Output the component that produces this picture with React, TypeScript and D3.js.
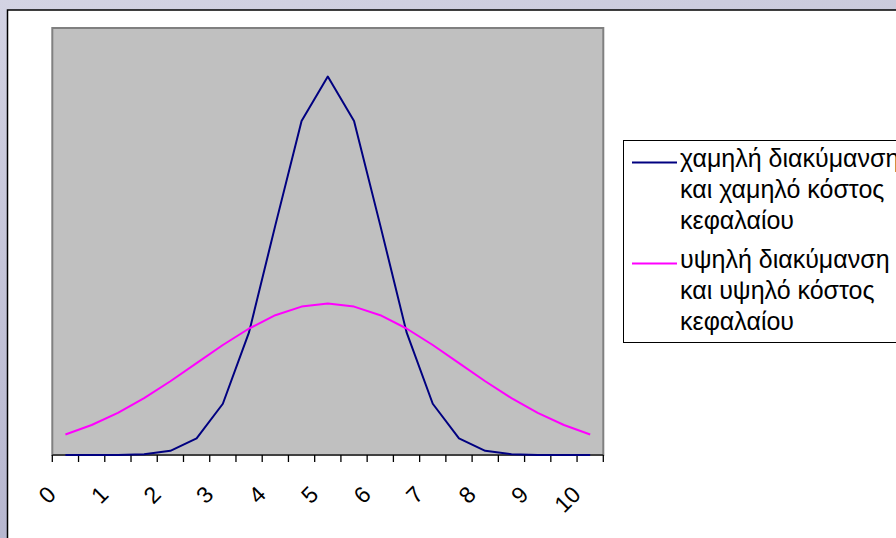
import React from "react";
import * as d3 from "d3";

// x categories: 0, 0.5, ..., 10 (21 categories), labels every other
const categories: number[] = [0, 0.5, 1, 1.5, 2, 2.5, 3, 3.5, 4, 4.5, 5, 5.5, 6, 6.5, 7, 7.5, 8, 8.5, 9, 9.5, 10];
const tickLabels: string[] = ["0", "1", "2", "3", "4", "5", "6", "7", "8", "9", "10"];

// low variance and low cost of capital
const lowSeries: number[] = [
  0.0, 0.0, 0.0001, 0.0009, 0.0044, 0.0175, 0.054, 0.1295, 0.242, 0.3521, 0.3989,
  0.3521, 0.242, 0.1295, 0.054, 0.0175, 0.0044, 0.0009, 0.0001, 0.0, 0.0,
];
// high variance and high cost of capital
const highSeries: number[] = [
  0.0216, 0.0316, 0.0444, 0.0599, 0.0777, 0.0968, 0.1159, 0.1333, 0.1473, 0.1564, 0.1596,
  0.1564, 0.1473, 0.1333, 0.1159, 0.0968, 0.0777, 0.0599, 0.0444, 0.0316, 0.0216,
];

const seriesNames: string[][] = [
  ["χαμηλή διακύμανση", "και χαμηλό κόστος", "κεφαλαίου"],
  ["υψηλή διακύμανση", "και υψηλό κόστος", "κεφαλαίου"],
];
const seriesColors: string[] = ["#000080", "#ff00ff"];
const yMax = 0.45;

export default function App() {
  const W = 896;
  const H = 538;
  const plot = { left: 52.3, right: 603.3, top: 28, bottom: 455 };

  const x = d3
    .scaleBand<number>()
    .domain(categories.map((_, i) => i))
    .range([plot.left, plot.right])
    .paddingInner(0)
    .paddingOuter(0);
  const bw = x.bandwidth();
  const cx = (i: number) => (x(i) as number) + bw / 2;
  const y = d3.scaleLinear().domain([0, yMax]).range([plot.bottom, plot.top]);

  const line = d3
    .line<number>()
    .x((_, i) => cx(i))
    .y((d) => y(d));

  const tickXs = categories.map((_, i) => x(i) as number).concat([plot.right]);
  const font = "'Liberation Sans', Arial, sans-serif";

  const allSeries = [lowSeries, highSeries];

  const legend = { left: 623.5, top: 140.5, right: 905, bottom: 342.5 };
  const entryBase = [167, 268];
  const lineGap = 31;

  return (
    <svg
      width={W}
      height={H}
      style={{ position: "fixed", left: 0, top: 0, display: "block" }}
      xmlns="http://www.w3.org/2000/svg"
    >
      <defs>
        <linearGradient id="bg" x1="0" y1="0" x2="0.3" y2="1">
          <stop offset="0" stopColor="#d3d3e3" />
          <stop offset="1" stopColor="#b4b4cd" />
        </linearGradient>
      </defs>
      <rect x={0} y={0} width={W} height={H} fill="url(#bg)" />
      {/* chart area */}
      <rect x={7.5} y={10} width={W + 20} height={H + 20} fill="#ffffff" stroke="#000" strokeWidth={1.5} />
      {/* plot area */}
      <rect
        x={plot.left}
        y={plot.top}
        width={plot.right - plot.left}
        height={plot.bottom - plot.top}
        fill="#c0c0c0"
        stroke="#808080"
        strokeWidth={2}
      />
      {/* axis line */}
      <line x1={plot.left} x2={plot.right} y1={plot.bottom} y2={plot.bottom} stroke="#000" strokeWidth={1} />
      {tickXs.map((tx, i) => (
        <line key={i} x1={tx} x2={tx} y1={plot.bottom} y2={plot.bottom + 7} stroke="#000" strokeWidth={1.3} />
      ))}
      {/* series */}
      {allSeries.map((s, k) => (
        <path key={k} d={line(s) || ""} fill="none" stroke={seriesColors[k]} strokeWidth={2} strokeLinejoin="round" />
      ))}
      {/* category labels */}
      {tickLabels.map((lab, j) => {
        const ax = cx(j * 2) - 8;
        const ay = 496;
        return (
          <text
            key={j}
            x={ax}
            y={ay}
            textAnchor="end"
            fontFamily={font}
            fontSize={23}
            fill="#000"
            transform={`rotate(-45 ${ax} ${ay})`}
          >
            {lab}
          </text>
        );
      })}
      {/* legend */}
      <rect
        x={legend.left}
        y={legend.top}
        width={legend.right - legend.left}
        height={legend.bottom - legend.top}
        fill="#ffffff"
        stroke="#000"
        strokeWidth={1}
      />
      {seriesNames.map((lines, k) => (
        <g key={k}>
          <line
            x1={632}
            x2={677}
            y1={entryBase[k] - 4.5}
            y2={entryBase[k] - 4.5}
            stroke={seriesColors[k]}
            strokeWidth={2}
          />
          {lines.map((t, m) => (
            <text key={m} x={680} y={entryBase[k] + m * lineGap} fontFamily={font} fontSize={25} fill="#000">
              {t}
            </text>
          ))}
        </g>
      ))}
    </svg>
  );
}
